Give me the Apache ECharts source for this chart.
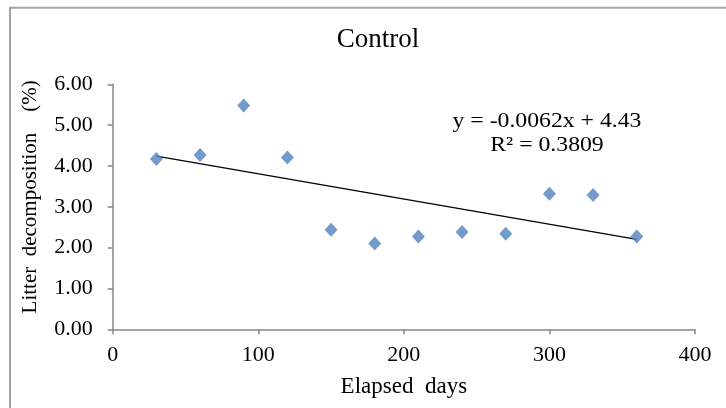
<!DOCTYPE html>
<html>
<head>
<meta charset="utf-8">
<script src="https://cdn.jsdelivr.net/npm/echarts@6/dist/echarts.min.js"></script>
<style>
html,body{margin:0;padding:0;background:#fff;}
#chart{width:726px;height:408px;}
</style>
</head>
<body>
<div id="chart"></div>
<script>
var elapsedDays = [30, 60, 90, 120, 150, 180, 210, 240, 270, 300, 330, 360];
var decomposition = [4.17, 4.27, 5.48, 4.21, 2.44, 2.10, 2.27, 2.38, 2.34, 3.32, 3.29, 2.27];
var trendX = [30, 360];
var trendY = [4.24, 2.20];
var xTicks = [0, 100, 200, 300, 400];
var yTicks = [0, 1, 2, 3, 4, 5, 6];
var titleText = 'Control';
var xName = 'Elapsed  days';
var yName = 'Litter  decomposition    (%)';
var equationLines = ['y = -0.0062x + 4.43', 'R² = 0.3809'];

var font = '"Liberation Serif", "Times New Roman", serif';
var chart = echarts.init(document.getElementById('chart'), null, {renderer: 'canvas'});
var pts = elapsedDays.map(function (d, i) { return [d, decomposition[i]]; });
var trend = trendX.map(function (d, i) { return [d, trendY[i]]; });

chart.setOption({
  animation: false,
  backgroundColor: '#ffffff',
  title: {
    text: titleText,
    left: 373, top: 21, textAlign: 'center',
    textStyle: {fontFamily: font, fontSize: 27, fontWeight: 'normal', color: '#000'}
  },
  graphic: [
    {type: 'rect', shape: {x: 10, y: 7.7, width: 800, height: 500},
     style: {fill: null, stroke: '#a3a3a3', lineWidth: 2}, z: 0},
    {type: 'text', x: 547, y: 121, scaleX: 1.13,
     style: {text: equationLines[0], fontFamily: font, fontSize: 21, fill: '#000', textAlign: 'center', textVerticalAlign: 'middle'}},
    {type: 'text', x: 547, y: 145.5, scaleX: 1.13,
     style: {text: equationLines[1], fontFamily: font, fontSize: 21, fill: '#000', textAlign: 'center', textVerticalAlign: 'middle'}}
  ],
  grid: {left: 112.7, right: 31, top: 84.3, bottom: 78.7, containLabel: false},
  xAxis: {
    type: 'value', min: xTicks[0], max: xTicks[xTicks.length - 1], interval: 100,
    name: xName, nameLocation: 'middle', nameGap: 46,
    nameTextStyle: {fontFamily: font, fontSize: 23, color: '#000'},
    axisLine: {lineStyle: {color: '#868686', width: 1.5}},
    axisTick: {show: true, inside: false, length: 5, lineStyle: {color: '#868686', width: 1.5}},
    axisLabel: {fontFamily: font, fontSize: 22, color: '#000', margin: 15},
    splitLine: {show: false}
  },
  yAxis: {
    type: 'value', min: yTicks[0], max: yTicks[yTicks.length - 1], interval: 1,
    name: yName, nameLocation: 'middle', nameGap: 72, nameRotate: 90,
    nameTextStyle: {fontFamily: font, fontSize: 21, color: '#000', padding: [0, 0, 0, 20]},
    axisLine: {show: true, lineStyle: {color: '#868686', width: 1.5}},
    axisTick: {show: true, inside: false, length: 5, lineStyle: {color: '#868686', width: 1.5}},
    axisLabel: {fontFamily: font, fontSize: 22, color: '#000', margin: 20,
      formatter: function (v) { return v.toFixed(2); }},
    splitLine: {show: false}
  },
  series: [
    {type: 'line', data: trend, symbol: 'none', silent: true, z: 2,
     lineStyle: {color: '#000', width: 1.3}},
    {type: 'scatter', data: pts, symbol: 'diamond', symbolSize: [13, 14], z: 3,
     itemStyle: {color: '#4f81bd'}}
  ]
});
</script>
</body>
</html>
